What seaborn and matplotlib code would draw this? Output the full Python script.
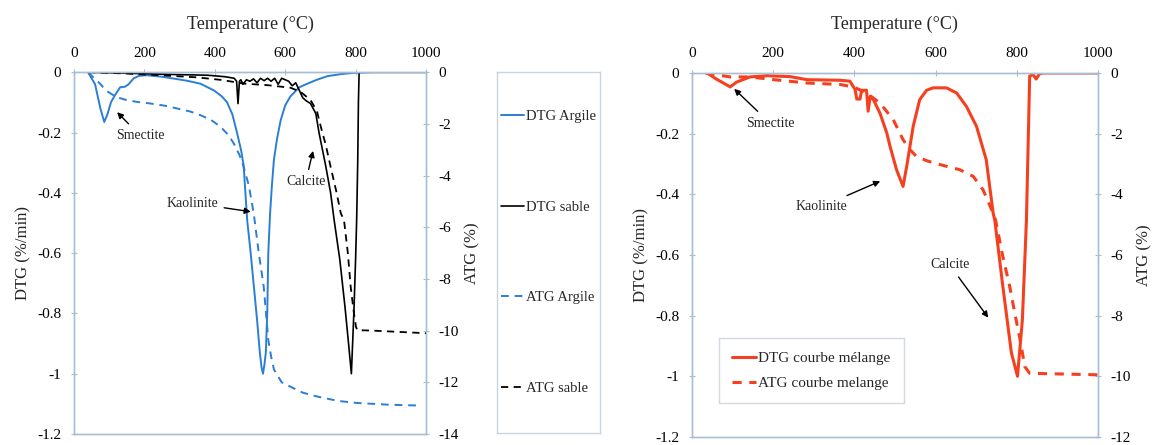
import matplotlib
matplotlib.use("Agg")
import matplotlib.pyplot as plt
import seaborn as sns
import pandas as pd
from matplotlib.ticker import FuncFormatter

# --- left panel: clay (argile) and sand (sable) ---
t_dtg_argile = [40, 60, 75, 86, 95, 105, 117, 131, 145, 155, 170, 185, 207, 250, 283, 320, 359, 397,
                420, 435, 450, 463, 475, 482, 492, 502, 511, 520, 528, 533, 537, 541, 545, 549, 552,
                557, 562, 568, 577, 587, 600, 615, 640, 663, 690, 720, 760, 796, 850, 1000]
dtg_argile = [0, -0.04, -0.12, -0.165, -0.14, -0.10, -0.075, -0.05, -0.048, -0.04, -0.02, -0.012,
              -0.01, -0.015, -0.021, -0.028, -0.038, -0.06, -0.08, -0.10, -0.14, -0.2, -0.26, -0.31,
              -0.49, -0.6, -0.71, -0.82, -0.93, -0.98, -1.0, -0.97, -0.93, -0.8, -0.6, -0.47, -0.38,
              -0.29, -0.22, -0.16, -0.11, -0.08, -0.05, -0.038, -0.025, -0.013, -0.006, -0.002, 0, 0]

t_atg_argile = [40, 55, 74, 90, 112, 130, 150, 180, 217, 260, 292, 330, 359, 390, 416, 440, 454, 470,
                482, 497, 511, 525, 539, 552, 560, 568, 590, 615, 650, 691, 750, 805, 900, 986]
atg_argile = [0, -0.2, -0.44, -0.7, -0.89, -1.0, -1.08, -1.15, -1.21, -1.3, -1.4, -1.52, -1.66, -1.85,
              -2.11, -2.45, -2.76, -3.2, -3.66, -4.4, -5.5, -7.0, -8.3, -10.36, -11.0, -11.5, -12.0,
              -12.17, -12.4, -12.55, -12.72, -12.8, -12.87, -12.9]

t_dtg_sable = [40, 100, 200, 300, 380, 430, 455, 462, 466, 470, 474, 480, 490, 500, 510, 520, 530,
               540, 550, 560, 570, 580, 590, 600, 610, 620, 630, 640, 650, 660, 672, 687, 696, 715,
               729, 739, 755, 770, 780, 788, 795, 800, 803, 806, 808, 810, 830, 1000]
dtg_sable = [0, -0.002, -0.005, -0.008, -0.01, -0.015, -0.02, -0.03, -0.104, -0.03, -0.025, -0.04,
             -0.025, -0.03, -0.022, -0.035, -0.02, -0.028, -0.02, -0.03, -0.02, -0.04, -0.02, -0.025,
             -0.03, -0.045, -0.035, -0.06, -0.085, -0.095, -0.104, -0.137, -0.2, -0.31, -0.4, -0.49,
             -0.62, -0.78, -0.9, -1.0, -0.8, -0.62, -0.49, -0.3, -0.1, 0, 0, 0]

t_atg_sable = [40, 150, 250, 350, 420, 482, 549, 615, 644, 672, 690, 701, 715, 729, 745, 758, 767,
               778, 786, 795, 801, 805, 850, 1000]
atg_sable = [0, -0.05, -0.12, -0.2, -0.3, -0.44, -0.5, -0.6, -0.76, -1.08, -1.5, -2.1, -2.8, -3.66,
             -4.6, -5.46, -5.72, -7.0, -8.3, -9.3, -9.85, -9.98, -10.0, -10.1]

# --- right panel: mixture (mélange) ---
t_dtg_mel = [37, 60, 80, 94, 110, 143, 184, 242, 283, 365, 389, 402, 406, 414, 418, 430, 434, 439,
             447, 463, 480, 488, 504, 520, 529, 545, 561, 578, 594, 627, 652, 676, 701, 725, 742,
             746, 766, 787, 802, 814, 824, 832, 840, 848, 856, 865, 1000]
dtg_mel = [0, -0.02, -0.035, -0.046, -0.03, -0.013, -0.009, -0.012, -0.022, -0.024, -0.027, -0.055,
           -0.086, -0.086, -0.057, -0.057, -0.126, -0.077, -0.088, -0.132, -0.198, -0.242, -0.319,
           -0.374, -0.308, -0.176, -0.088, -0.057, -0.049, -0.049, -0.066, -0.11, -0.176, -0.286,
           -0.462, -0.485, -0.705, -0.923, -1.0, -0.814, -0.485, -0.01, -0.005, -0.02, -0.003, 0, 0]

t_atg_mel = [33, 60, 94, 143, 201, 283, 365, 398, 430, 463, 496, 520, 537, 553, 580, 611, 660, 693,
             717, 742, 748, 765, 783, 795, 807, 820, 832, 900, 1000]
atg_mel = [0, -0.06, -0.13, -0.13, -0.22, -0.33, -0.38, -0.46, -0.66, -0.99, -1.54, -2.2, -2.53,
           -2.75, -2.9, -3.02, -3.19, -3.41, -3.85, -4.62, -4.85, -6.0, -7.05, -7.9, -8.7, -9.68,
           -9.9, -9.92, -9.95]

x_ticks = [0, 200, 400, 600, 800, 1000]

BLUE = '#2a7fd4'
RED = '#f5401f'
SPINE = '#a9bdd3'

sns.set_style('white')
plt.rcParams['font.family'] = ['Liberation Serif', 'DejaVu Serif']
plt.rcParams['axes.unicode_minus'] = False

fmt = FuncFormatter(lambda v, p: f"{v:g}")


def style_axes(ax, ylim, yticks):
    ax.set_ylim(*ylim)
    ax.set_yticks(yticks)
    ax.yaxis.set_major_formatter(fmt)
    for s in ax.spines.values():
        s.set_color(SPINE)
        s.set_linewidth(1.0)
        s.set_visible(True)
    ax.tick_params(colors=SPINE, labelcolor='black', labelsize=11, length=4, direction='inout')
    ax.tick_params(axis='y', pad=7)
    ax.tick_params(axis='x', pad=7)


def setup_pair(ax, atg_min):
    ax.set_xlim(0, 1000)
    ax.set_xticks(x_ticks)
    ax.xaxis.tick_top()
    ax.xaxis.set_label_position('top')
    ax.set_xlabel('Temperature (°C)', fontsize=13, labelpad=13)
    ax.set_ylabel('DTG (%/min)', fontsize=12, labelpad=4)
    style_axes(ax, (-1.2, 0), [-1.2, -1.0, -0.8, -0.6, -0.4, -0.2, 0])
    ax2 = ax.twinx()
    style_axes(ax2, (atg_min, 0), list(range(atg_min, 1, 2)))
    ax2.set_ylabel('ATG (%)', fontsize=12, labelpad=4)
    return ax2


fig = plt.figure(figsize=(11.63, 4.45), dpi=100)

# left panel
axL = fig.add_axes([0.0636, 0.0247, 0.3027, 0.813])
axL2 = setup_pair(axL, -14)
sns.lineplot(x=t_dtg_argile, y=dtg_argile, ax=axL, color=BLUE, lw=1.4, label='DTG Argile')
sns.lineplot(x=t_dtg_sable, y=dtg_sable, ax=axL, color='black', lw=1.2, label='DTG sable')
sns.lineplot(x=t_atg_argile, y=atg_argile, ax=axL2, color=BLUE, lw=1.4, ls=(0, (4, 3)), label='ATG Argile')
sns.lineplot(x=t_atg_sable, y=atg_sable, ax=axL2, color='black', lw=1.3, ls=(0, (4, 3)), label='ATG sable')
axL.set_xlim(0, 1000)
h1, l1 = axL.get_legend_handles_labels()
h2, l2 = axL2.get_legend_handles_labels()
for a in (axL, axL2):
    if a.get_legend():
        a.get_legend().remove()

arrow = dict(arrowstyle='-|>', color='black', lw=1.0, mutation_scale=9)
axL.annotate('Smectite', xy=(117, -0.126), xytext=(188, -0.21), fontsize=10, ha='center', va='center', arrowprops=arrow)
axL.annotate('Kaolinite', xy=(510, -0.464), xytext=(336, -0.434), fontsize=10, ha='center', va='center', arrowprops=arrow)
axL.annotate('Calcite', xy=(681, -0.252), xytext=(658, -0.364), fontsize=10, ha='center', va='center', arrowprops=arrow)

# separate legend box for the left panel
axLeg = fig.add_axes([0.427, 0.027, 0.0886, 0.811])
axLeg.set_xticks([])
axLeg.set_yticks([])
for s in axLeg.spines.values():
    s.set_color('#c8d4e0')
    s.set_linewidth(1.0)
axLeg.legend([h1[0], h1[1], h2[0], h2[1]], [l1[0], l1[1], l2[0], l2[1]], loc='center', frameon=False,
             fontsize=10.5, handlelength=1.6, handletextpad=0.1, labelspacing=5.3)

# right panel
axR = fig.add_axes([0.595, 0.018, 0.349, 0.818])
axR2 = setup_pair(axR, -12)
sns.lineplot(x=t_dtg_mel, y=dtg_mel, ax=axR, color=RED, lw=2.2, label='DTG courbe mélange')
sns.lineplot(x=t_atg_mel, y=atg_mel, ax=axR2, color=RED, lw=2.2, ls=(0, (3, 2.5)), label='ATG courbe melange')
axR.set_xlim(0, 1000)
hr1, lr1 = axR.get_legend_handles_labels()
hr2, lr2 = axR2.get_legend_handles_labels()
for a in (axR, axR2):
    if a.get_legend():
        a.get_legend().remove()
leg = axR2.legend(hr1 + hr2, lr1 + lr2, loc='lower left', bbox_to_anchor=(0.066, 0.093), fontsize=11,
                  fancybox=False, edgecolor='#c8d0d8', handlelength=1.6, handletextpad=0.15,
                  borderpad=0.85, labelspacing=0.75, borderaxespad=0)
leg.get_frame().set_linewidth(1.0)

axR.annotate('Smectite', xy=(99, -0.046), xytext=(192, -0.165), fontsize=10, ha='center', va='center', arrowprops=arrow)
axR.annotate('Kaolinite', xy=(470, -0.353), xytext=(320, -0.44), fontsize=10, ha='center', va='center', arrowprops=arrow)
axR.annotate('Calcite', xy=(734, -0.814), xytext=(635, -0.633), fontsize=10, ha='center', va='center', arrowprops=arrow)

fig.savefig('out.png', dpi=100)
